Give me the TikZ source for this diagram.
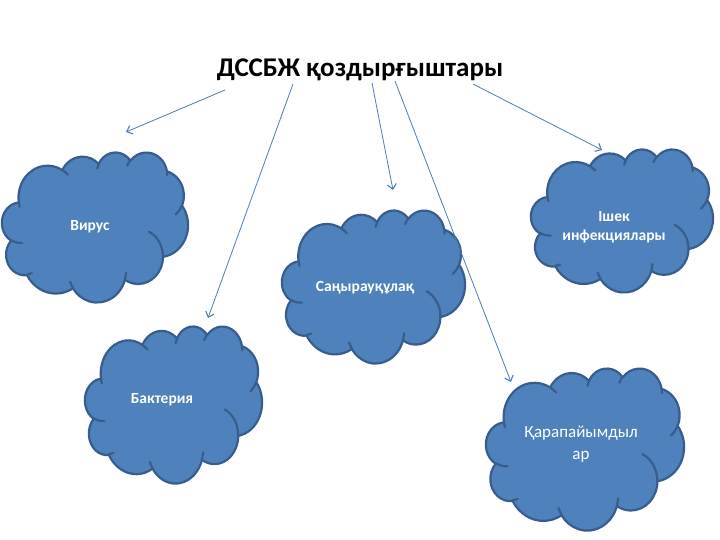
\documentclass[tikz,border=0pt]{standalone}
\usepackage{fontspec}
\setmainfont{Carlito}
\usetikzlibrary{arrows.meta}
\definecolor{cloudfill}{HTML}{4F81BD}
\definecolor{cloudline}{HTML}{385D8A}
\definecolor{arrowcol}{HTML}{4A7EBB}
\tikzset{
  cloudborder/.style={draw=cloudline, line width=2.2pt, line join=round},
  cloudtext/.style={text=white, font=\bfseries\fontsize{15.5}{19}\selectfont, align=center, inner sep=0pt},
  conn/.style={draw=arrowcol, line width=0.8pt, -{Straight Barb[length=5pt,width=9pt,line width=1.1pt]}},
}
% #1 left, #2 top, #3 width, #4 height (pixels)
\newcommand\mycloud[4]{%
  \pgfmathsetmacro\cxu{#3/43.2}%
  \pgfmathsetmacro\cyu{#4/43.2}%
  \begin{scope}[shift={(#1,#2)}, x=\cxu pt, y=-\cyu pt]
    \path[fill=cloudfill, cloudborder] (3.9,14.37)
      \foreach \w/\h/\s/\sw in {
        6.753/9.190/-190.4875/123.7805,
        5.333/7.267/-144.1024/89.9452,
        4.365/5.945/-145.8079/99.7230,
        4.857/6.595/-130.9861/117.2417,
        5.333/7.273/-78.7089/109.0269,
        6.775/9.220/-46.2673/130.2690,
        5.785/7.867/0.6250/114.0333,
        6.752/9.215/22.4516/115.1726,
        7.720/10.543/66.2426/75.7110,
        4.360/5.918/-274.9421/146.7356,
        4.345/5.945/-246.8285/152.5189}{
        arc[x radius=\w, y radius=\h,
            start angle={atan2(\w*sin(\s),\h*cos(\s))},
            delta angle={mod(atan2(\w*sin(\s+\sw),\h*cos(\s+\sw))-atan2(\w*sin(\s),\h*cos(\s))+720,360)}]
      } -- cycle;
    \path[cloudborder, line cap=round]
      \foreach \px/\py/\w/\h/\s/\sw in {
        4.693/26.177/4.345/5.945/86.742/26.430,
        6.928/34.899/4.360/5.918/73.610/11.447,
        16.478/39.090/6.752/9.215/137.624/14.081,
        28.827/34.751/6.752/9.215/6.453/15.998,
        34.129/22.954/5.785/7.867/-70.292/70.917,
        41.798/15.354/5.333/7.273/30.318/27.752,
        38.324/5.426/4.857/6.595/-13.744/14.866,
        29.078/3.952/4.857/6.595/-149.181/18.197,
        22.141/4.720/4.365/5.945/-163.494/17.686,
        14.000/5.192/6.753/9.190/-66.707/12.319,
        4.127/15.789/6.753/9.190/157.654/11.854}{
        (\px,\py) arc[x radius=\w, y radius=\h,
            start angle={atan2(\w*sin(\s),\h*cos(\s))},
            delta angle={mod(atan2(\w*sin(\s+\sw),\h*cos(\s+\sw))-atan2(\w*sin(\s),\h*cos(\s))+720,360)}]
      };
  \end{scope}}
\begin{document}
\begin{tikzpicture}[x=1pt, y=-1pt]
  \useasboundingbox (0,0) rectangle (720,540);
  \fill[white] (0,0) rectangle (720,540);
  % clouds
  \mycloud{2}{152}{186}{150}
  \mycloud{282}{210}{183}{153}
  \mycloud{531}{149}{182}{143}
  \mycloud{85}{326}{177}{157}
  \mycloud{486}{368}{198}{162}
  % texts
  \node[font=\bfseries\fontsize{27}{30}\selectfont, inner sep=0pt] (title) at (360,70) {ДССБЖ қоздырғыштары};
  \node[cloudtext] (virus) at (90,227) {Вирус};
  \node[cloudtext] (sany) at (365,288) {Саңырауқұлақ};
  \node[cloudtext] (ishek) at (614,227) {Ішек\\инфекциялары};
  \node[cloudtext] (bakt) at (162,400) {Бактерия};
  \node[text=white, font=\fontsize{17}{22}\selectfont, align=center, inner sep=0pt] (qara) at (581,444) {Қарапайымдыл\\ар};
  % connector ends
  \coordinate (s1) at (225,90);  \coordinate (e1) at (126,132);
  \coordinate (s2) at (293,84);  \coordinate (e2) at (208,318);
  \coordinate (s3) at (372,83);  \coordinate (e3) at (393,190);
  \coordinate (s4) at (395,81);  \coordinate (e4) at (511,382);
  \coordinate (s5) at (473,84);  \coordinate (e5) at (602,150);
  \draw[conn] (s1) -- (e1);
  \draw[conn] (s2) -- (e2);
  \draw[conn] (s3) -- (e3);
  \draw[conn] (s4) -- (e4);
  \draw[conn] (s5) -- (e5);
\end{tikzpicture}
\end{document}
